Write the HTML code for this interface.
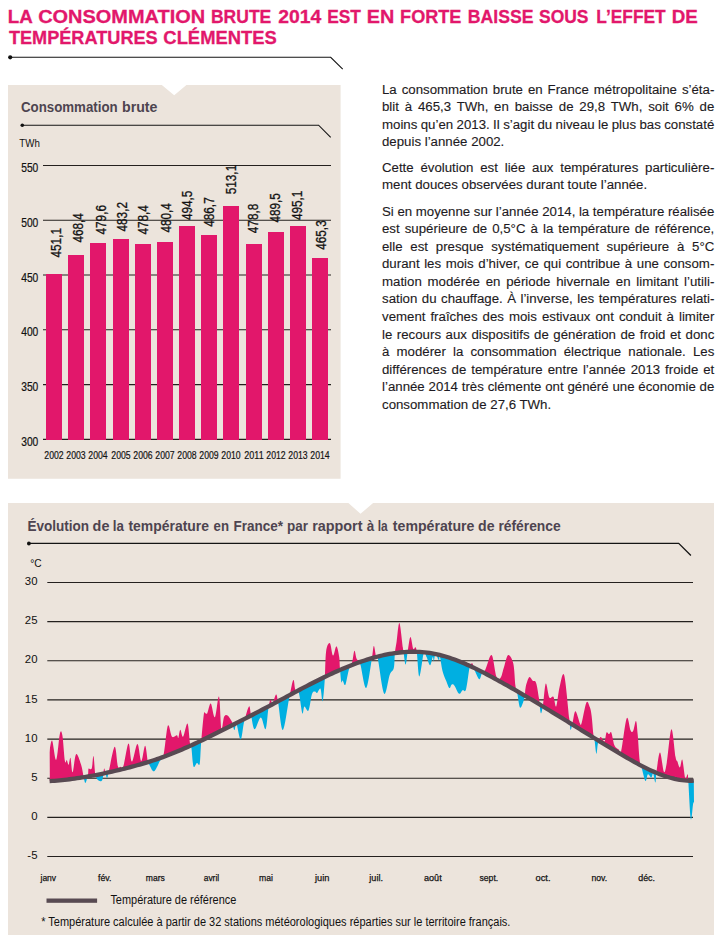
<!DOCTYPE html><html><head><meta charset="utf-8"><style>html,body{margin:0;padding:0;background:#fff;width:723px;height:935px;overflow:hidden}svg{display:block}text{font-family:"Liberation Sans",sans-serif;white-space:pre}</style></head><body>
<svg width="723" height="935" viewBox="0 0 723 935">
<text x="7.84" y="22.8" font-size="18.7" font-weight="bold" fill="#e2176b" textLength="25.05" lengthAdjust="spacingAndGlyphs" stroke="#e2176b" stroke-width="0.3">LA</text>
<text x="38.18" y="22.8" font-size="18.7" font-weight="bold" fill="#e2176b" textLength="166.97" lengthAdjust="spacingAndGlyphs" stroke="#e2176b" stroke-width="0.3">CONSOMMATION</text>
<text x="210.93" y="22.8" font-size="18.7" font-weight="bold" fill="#e2176b" textLength="60.36" lengthAdjust="spacingAndGlyphs" stroke="#e2176b" stroke-width="0.3">BRUTE</text>
<text x="278.22" y="22.8" font-size="18.7" font-weight="bold" fill="#e2176b" textLength="43.09" lengthAdjust="spacingAndGlyphs" stroke="#e2176b" stroke-width="0.3">2014</text>
<text x="327.14" y="22.8" font-size="18.7" font-weight="bold" fill="#e2176b" textLength="33.75" lengthAdjust="spacingAndGlyphs" stroke="#e2176b" stroke-width="0.3">EST</text>
<text x="366.77" y="22.8" font-size="18.7" font-weight="bold" fill="#e2176b" textLength="27.56" lengthAdjust="spacingAndGlyphs" stroke="#e2176b" stroke-width="0.3">EN</text>
<text x="400.09" y="22.8" font-size="18.7" font-weight="bold" fill="#e2176b" textLength="61.31" lengthAdjust="spacingAndGlyphs" stroke="#e2176b" stroke-width="0.3">FORTE</text>
<text x="467.82" y="22.8" font-size="18.7" font-weight="bold" fill="#e2176b" textLength="65.78" lengthAdjust="spacingAndGlyphs" stroke="#e2176b" stroke-width="0.3">BAISSE</text>
<text x="538.99" y="22.8" font-size="18.7" font-weight="bold" fill="#e2176b" textLength="49.49" lengthAdjust="spacingAndGlyphs" stroke="#e2176b" stroke-width="0.3">SOUS</text>
<text x="596.34" y="22.8" font-size="18.7" font-weight="bold" fill="#e2176b" textLength="69.35" lengthAdjust="spacingAndGlyphs" stroke="#e2176b" stroke-width="0.3">L’EFFET</text>
<text x="671.74" y="22.8" font-size="18.7" font-weight="bold" fill="#e2176b" textLength="26.09" lengthAdjust="spacingAndGlyphs" stroke="#e2176b" stroke-width="0.3">DE</text>
<text x="8.90" y="43.5" font-size="18.7" font-weight="bold" fill="#e2176b" textLength="148.81" lengthAdjust="spacingAndGlyphs" stroke="#e2176b" stroke-width="0.3">TEMPÉRATURES</text>
<text x="163.35" y="43.5" font-size="18.7" font-weight="bold" fill="#e2176b" textLength="113.47" lengthAdjust="spacingAndGlyphs" stroke="#e2176b" stroke-width="0.3">CLÉMENTES</text>
<path d="M10 57.3H330.7L342.7 69.2" fill="none" stroke="#141414" stroke-width="1.1"/><circle cx="10.2" cy="57.3" r="2.1" fill="#111"/>
<text x="382.0" y="93.8" font-size="13.25" fill="#1d1a22" stroke="#1d1a22" stroke-width="0.12" word-spacing="1.251">La consommation brute en France métropolitaine s’éta-</text>
<text x="382.0" y="111.3" font-size="13.25" fill="#1d1a22" stroke="#1d1a22" stroke-width="0.12" word-spacing="2.131">blit à 465,3 TWh, en baisse de 29,8 TWh, soit 6% de</text>
<text x="382.0" y="128.8" font-size="13.25" fill="#1d1a22" stroke="#1d1a22" stroke-width="0.12" word-spacing="-0.286">moins qu’en 2013. Il s’agit du niveau le plus bas constaté</text>
<text x="382.0" y="146.3" font-size="13.25" fill="#1d1a22" stroke="#1d1a22" stroke-width="0.12">depuis l’année 2002.</text>
<text x="382.0" y="171.8" font-size="13.25" fill="#1d1a22" stroke="#1d1a22" stroke-width="0.12" word-spacing="3.092">Cette évolution est liée aux températures particulière-</text>
<text x="382.0" y="189.4" font-size="13.25" fill="#1d1a22" stroke="#1d1a22" stroke-width="0.12">ment douces observées durant toute l’année.</text>
<text x="382.0" y="215.5" font-size="13.25" fill="#1d1a22" stroke="#1d1a22" stroke-width="0.12" word-spacing="-0.080">Si en moyenne sur l’année 2014, la température réalisée</text>
<text x="382.0" y="233.1" font-size="13.25" fill="#1d1a22" stroke="#1d1a22" stroke-width="0.12" word-spacing="1.377">est supérieure de 0,5°C à la température de référence,</text>
<text x="382.0" y="250.7" font-size="13.25" fill="#1d1a22" stroke="#1d1a22" stroke-width="0.12" word-spacing="4.047">elle est presque systématiquement supérieure à 5°C</text>
<text x="382.0" y="268.3" font-size="13.25" fill="#1d1a22" stroke="#1d1a22" stroke-width="0.12" word-spacing="0.915">durant les mois d’hiver, ce qui contribue à une consom-</text>
<text x="382.0" y="285.9" font-size="13.25" fill="#1d1a22" stroke="#1d1a22" stroke-width="0.12" word-spacing="2.123">mation modérée en période hivernale en limitant l’utili-</text>
<text x="382.0" y="303.4" font-size="13.25" fill="#1d1a22" stroke="#1d1a22" stroke-width="0.12" word-spacing="0.791">sation du chauffage. À l’inverse, les températures relati-</text>
<text x="382.0" y="321.0" font-size="13.25" fill="#1d1a22" stroke="#1d1a22" stroke-width="0.12" word-spacing="1.309">vement fraîches des mois estivaux ont conduit à limiter</text>
<text x="382.0" y="338.6" font-size="13.25" fill="#1d1a22" stroke="#1d1a22" stroke-width="0.12" word-spacing="0.830">le recours aux dispositifs de génération de froid et donc</text>
<text x="382.0" y="356.2" font-size="13.25" fill="#1d1a22" stroke="#1d1a22" stroke-width="0.12" word-spacing="3.456">à modérer la consommation électrique nationale. Les</text>
<text x="382.0" y="373.8" font-size="13.25" fill="#1d1a22" stroke="#1d1a22" stroke-width="0.12" word-spacing="1.311">différences de température entre l’année 2013 froide et</text>
<text x="382.0" y="391.4" font-size="13.25" fill="#1d1a22" stroke="#1d1a22" stroke-width="0.12" word-spacing="0.102">l’année 2014 très clémente ont généré une économie de</text>
<text x="382.0" y="409.0" font-size="13.25" fill="#1d1a22" stroke="#1d1a22" stroke-width="0.12">consommation de 27,6 TWh.</text>
<path d="M8 85H161.8L174.2 95.2L186.4 85H340.6V478.7H8Z" fill="#ece4dc"/>
<text x="20.96" y="111.9" font-size="14" font-weight="bold" fill="#4e4450" textLength="96.67" lengthAdjust="spacingAndGlyphs" >Consommation</text>
<text x="122.06" y="111.9" font-size="14" font-weight="bold" fill="#4e4450" textLength="35.42" lengthAdjust="spacingAndGlyphs" >brute</text>
<path d="M22.2 125.2H318.6L330.7 137.4" fill="none" stroke="#141414" stroke-width="1.1"/><circle cx="22.3" cy="125.2" r="1.8" fill="#111"/>
<text x="19.3" y="146.9" font-size="11.4" fill="#111" textLength="20.5" lengthAdjust="spacingAndGlyphs">TWh</text>
<line x1="43" y1="165.5" x2="331" y2="165.5" stroke="#24201e" stroke-width="1.1"/>
<text x="38.3" y="172.1" font-size="12.2" fill="#111" stroke="#111" stroke-width="0.2" text-anchor="end" textLength="17.1" lengthAdjust="spacingAndGlyphs">550</text>
<line x1="43" y1="220.3" x2="331" y2="220.3" stroke="#24201e" stroke-width="1.1"/>
<text x="38.3" y="226.9" font-size="12.2" fill="#111" stroke="#111" stroke-width="0.2" text-anchor="end" textLength="17.1" lengthAdjust="spacingAndGlyphs">500</text>
<line x1="43" y1="275.05" x2="331" y2="275.05" stroke="#24201e" stroke-width="1.1"/>
<text x="38.3" y="281.7" font-size="12.2" fill="#111" stroke="#111" stroke-width="0.2" text-anchor="end" textLength="17.1" lengthAdjust="spacingAndGlyphs">450</text>
<line x1="43" y1="329.8" x2="331" y2="329.8" stroke="#24201e" stroke-width="1.1"/>
<text x="38.3" y="336.4" font-size="12.2" fill="#111" stroke="#111" stroke-width="0.2" text-anchor="end" textLength="17.1" lengthAdjust="spacingAndGlyphs">400</text>
<line x1="43" y1="384.6" x2="331" y2="384.6" stroke="#24201e" stroke-width="1.1"/>
<text x="38.3" y="391.2" font-size="12.2" fill="#111" stroke="#111" stroke-width="0.2" text-anchor="end" textLength="17.1" lengthAdjust="spacingAndGlyphs">350</text>
<line x1="43" y1="439.4" x2="331" y2="439.4" stroke="#24201e" stroke-width="1.1"/>
<text x="38.3" y="446.0" font-size="12.2" fill="#111" stroke="#111" stroke-width="0.2" text-anchor="end" textLength="17.1" lengthAdjust="spacingAndGlyphs">300</text>
<rect x="46" y="274" width="16" height="166" fill="#e2176b"/>
<text x="54.00" y="458.8" font-size="11.6" fill="#111" stroke="#111" stroke-width="0.2" text-anchor="middle" textLength="19.3" lengthAdjust="spacingAndGlyphs">2002</text>
<text transform="translate(61.20,257.50) rotate(-90)" x="0" y="0" font-size="14" fill="#111" stroke="#111" stroke-width="0.3" textLength="29.5" lengthAdjust="spacingAndGlyphs">451,1</text>
<rect x="68" y="255" width="16" height="185" fill="#e2176b"/>
<text x="76.00" y="458.8" font-size="11.6" fill="#111" stroke="#111" stroke-width="0.2" text-anchor="middle" textLength="19.3" lengthAdjust="spacingAndGlyphs">2003</text>
<text transform="translate(83.10,242.60) rotate(-90)" x="0" y="0" font-size="14" fill="#111" stroke="#111" stroke-width="0.3" textLength="29.5" lengthAdjust="spacingAndGlyphs">468,4</text>
<rect x="90" y="243" width="16" height="197" fill="#e2176b"/>
<text x="98.00" y="458.8" font-size="11.6" fill="#111" stroke="#111" stroke-width="0.2" text-anchor="middle" textLength="19.3" lengthAdjust="spacingAndGlyphs">2004</text>
<text transform="translate(106.00,234.50) rotate(-90)" x="0" y="0" font-size="14" fill="#111" stroke="#111" stroke-width="0.3" textLength="29.5" lengthAdjust="spacingAndGlyphs">479,6</text>
<rect x="113" y="239" width="16" height="201" fill="#e2176b"/>
<text x="121.00" y="458.8" font-size="11.6" fill="#111" stroke="#111" stroke-width="0.2" text-anchor="middle" textLength="19.3" lengthAdjust="spacingAndGlyphs">2005</text>
<text transform="translate(127.00,231.50) rotate(-90)" x="0" y="0" font-size="14" fill="#111" stroke="#111" stroke-width="0.3" textLength="29.5" lengthAdjust="spacingAndGlyphs">483,2</text>
<rect x="135" y="244" width="16" height="196" fill="#e2176b"/>
<text x="143.00" y="458.8" font-size="11.6" fill="#111" stroke="#111" stroke-width="0.2" text-anchor="middle" textLength="19.3" lengthAdjust="spacingAndGlyphs">2006</text>
<text transform="translate(148.40,234.60) rotate(-90)" x="0" y="0" font-size="14" fill="#111" stroke="#111" stroke-width="0.3" textLength="29.5" lengthAdjust="spacingAndGlyphs">478,4</text>
<rect x="157" y="242" width="16" height="198" fill="#e2176b"/>
<text x="165.00" y="458.8" font-size="11.6" fill="#111" stroke="#111" stroke-width="0.2" text-anchor="middle" textLength="19.3" lengthAdjust="spacingAndGlyphs">2007</text>
<text transform="translate(170.50,232.60) rotate(-90)" x="0" y="0" font-size="14" fill="#111" stroke="#111" stroke-width="0.3" textLength="29.5" lengthAdjust="spacingAndGlyphs">480,4</text>
<rect x="179" y="226" width="16" height="214" fill="#e2176b"/>
<text x="187.00" y="458.8" font-size="11.6" fill="#111" stroke="#111" stroke-width="0.2" text-anchor="middle" textLength="19.3" lengthAdjust="spacingAndGlyphs">2008</text>
<text transform="translate(192.00,220.10) rotate(-90)" x="0" y="0" font-size="14" fill="#111" stroke="#111" stroke-width="0.3" textLength="29.5" lengthAdjust="spacingAndGlyphs">494,5</text>
<rect x="201" y="235" width="16" height="205" fill="#e2176b"/>
<text x="209.00" y="458.8" font-size="11.6" fill="#111" stroke="#111" stroke-width="0.2" text-anchor="middle" textLength="19.3" lengthAdjust="spacingAndGlyphs">2009</text>
<text transform="translate(214.20,226.80) rotate(-90)" x="0" y="0" font-size="14" fill="#111" stroke="#111" stroke-width="0.3" textLength="29.5" lengthAdjust="spacingAndGlyphs">486,7</text>
<rect x="223" y="206" width="16" height="234" fill="#e2176b"/>
<text x="231.00" y="458.8" font-size="11.6" fill="#111" stroke="#111" stroke-width="0.2" text-anchor="middle" textLength="19.3" lengthAdjust="spacingAndGlyphs">2010</text>
<text transform="translate(236.30,194.30) rotate(-90)" x="0" y="0" font-size="14" fill="#111" stroke="#111" stroke-width="0.3" textLength="29.5" lengthAdjust="spacingAndGlyphs">513,1</text>
<rect x="246" y="244" width="16" height="196" fill="#e2176b"/>
<text x="254.00" y="458.8" font-size="11.6" fill="#111" stroke="#111" stroke-width="0.2" text-anchor="middle" textLength="19.3" lengthAdjust="spacingAndGlyphs">2011</text>
<text transform="translate(258.00,233.20) rotate(-90)" x="0" y="0" font-size="14" fill="#111" stroke="#111" stroke-width="0.3" textLength="29.5" lengthAdjust="spacingAndGlyphs">478,8</text>
<rect x="268" y="232" width="16" height="208" fill="#e2176b"/>
<text x="276.00" y="458.8" font-size="11.6" fill="#111" stroke="#111" stroke-width="0.2" text-anchor="middle" textLength="19.3" lengthAdjust="spacingAndGlyphs">2012</text>
<text transform="translate(280.10,222.60) rotate(-90)" x="0" y="0" font-size="14" fill="#111" stroke="#111" stroke-width="0.3" textLength="29.5" lengthAdjust="spacingAndGlyphs">489,5</text>
<rect x="290" y="226" width="16" height="214" fill="#e2176b"/>
<text x="298.00" y="458.8" font-size="11.6" fill="#111" stroke="#111" stroke-width="0.2" text-anchor="middle" textLength="19.3" lengthAdjust="spacingAndGlyphs">2013</text>
<text transform="translate(302.00,220.10) rotate(-90)" x="0" y="0" font-size="14" fill="#111" stroke="#111" stroke-width="0.3" textLength="29.5" lengthAdjust="spacingAndGlyphs">495,1</text>
<rect x="312" y="258" width="16" height="182" fill="#e2176b"/>
<text x="320.00" y="458.8" font-size="11.6" fill="#111" stroke="#111" stroke-width="0.2" text-anchor="middle" textLength="19.3" lengthAdjust="spacingAndGlyphs">2014</text>
<text transform="translate(326.40,249.80) rotate(-90)" x="0" y="0" font-size="14" fill="#111" stroke="#111" stroke-width="0.3" textLength="29.5" lengthAdjust="spacingAndGlyphs">465,3</text>
<path d="M8 503H348.4L360.5 513.8L373.1 503H714V935H8Z" fill="#ece4dc"/>
<text x="27.39" y="530.7" font-size="14" font-weight="bold" fill="#4e4450" textLength="61.65" lengthAdjust="spacingAndGlyphs" >Évolution</text>
<text x="92.61" y="530.7" font-size="14" font-weight="bold" fill="#4e4450" textLength="16.78" lengthAdjust="spacingAndGlyphs" >de</text>
<text x="112.76" y="530.7" font-size="14" font-weight="bold" fill="#4e4450" textLength="11.14" lengthAdjust="spacingAndGlyphs" >la</text>
<text x="128.43" y="530.7" font-size="14" font-weight="bold" fill="#4e4450" textLength="80.54" lengthAdjust="spacingAndGlyphs" >température</text>
<text x="213.58" y="530.7" font-size="14" font-weight="bold" fill="#4e4450" textLength="15.44" lengthAdjust="spacingAndGlyphs" >en</text>
<text x="233.40" y="530.7" font-size="14" font-weight="bold" fill="#4e4450" textLength="49.52" lengthAdjust="spacingAndGlyphs" >France*</text>
<text x="287.01" y="530.7" font-size="14" font-weight="bold" fill="#4e4450" textLength="20.99" lengthAdjust="spacingAndGlyphs" >par</text>
<text x="312.15" y="530.7" font-size="14" font-weight="bold" fill="#4e4450" textLength="50.32" lengthAdjust="spacingAndGlyphs" >rapport</text>
<text x="366.86" y="530.7" font-size="14" font-weight="bold" fill="#4e4450" textLength="7.50" lengthAdjust="spacingAndGlyphs" >à</text>
<text x="377.76" y="530.7" font-size="14" font-weight="bold" fill="#4e4450" textLength="9.95" lengthAdjust="spacingAndGlyphs" >la</text>
<text x="392.83" y="530.7" font-size="14" font-weight="bold" fill="#4e4450" textLength="81.65" lengthAdjust="spacingAndGlyphs" >température</text>
<text x="478.02" y="530.7" font-size="14" font-weight="bold" fill="#4e4450" textLength="16.46" lengthAdjust="spacingAndGlyphs" >de</text>
<text x="498.39" y="530.7" font-size="14" font-weight="bold" fill="#4e4450" textLength="62.28" lengthAdjust="spacingAndGlyphs" >référence</text>
<path d="M28.8 543.3H678.7L690.9 555.5" fill="none" stroke="#141414" stroke-width="1.3"/><circle cx="28.9" cy="543.5" r="1.9" fill="#111"/>
<text x="30.3" y="567.1" font-size="11.4" fill="#111" textLength="11.4" lengthAdjust="spacingAndGlyphs">°C</text>
<line x1="47.3" y1="582.44" x2="693" y2="582.44" stroke="#24201e" stroke-width="1.1"/>
<text x="37.5" y="585.14" font-size="11.4" fill="#111" text-anchor="end">30</text>
<line x1="47.3" y1="621.60" x2="693" y2="621.60" stroke="#24201e" stroke-width="1.1"/>
<text x="37.5" y="624.30" font-size="11.4" fill="#111" text-anchor="end">25</text>
<line x1="47.3" y1="660.76" x2="693" y2="660.76" stroke="#24201e" stroke-width="1.1"/>
<text x="37.5" y="663.46" font-size="11.4" fill="#111" text-anchor="end">20</text>
<line x1="47.3" y1="699.92" x2="693" y2="699.92" stroke="#24201e" stroke-width="1.1"/>
<text x="37.5" y="702.62" font-size="11.4" fill="#111" text-anchor="end">15</text>
<line x1="47.3" y1="739.08" x2="693" y2="739.08" stroke="#24201e" stroke-width="1.1"/>
<text x="37.5" y="741.78" font-size="11.4" fill="#111" text-anchor="end">10</text>
<line x1="47.3" y1="778.24" x2="693" y2="778.24" stroke="#24201e" stroke-width="1.1"/>
<text x="37.5" y="780.94" font-size="11.4" fill="#111" text-anchor="end">5</text>
<line x1="47.3" y1="817.40" x2="693" y2="817.40" stroke="#24201e" stroke-width="1.1"/>
<text x="37.5" y="820.10" font-size="11.4" fill="#111" text-anchor="end">0</text>
<line x1="47.3" y1="856.56" x2="693" y2="856.56" stroke="#24201e" stroke-width="1.1"/>
<text x="37.5" y="859.26" font-size="11.4" fill="#111" text-anchor="end">-5</text>
<text x="40.5" y="880.5" font-size="9.8" fill="#111" stroke="#111" stroke-width="0.25" textLength="15.6" lengthAdjust="spacingAndGlyphs">janv</text>
<text x="98.0" y="880.5" font-size="9.8" fill="#111" stroke="#111" stroke-width="0.25" textLength="13.4" lengthAdjust="spacingAndGlyphs">fév.</text>
<text x="145.8" y="880.5" font-size="9.8" fill="#111" stroke="#111" stroke-width="0.25" textLength="19.1" lengthAdjust="spacingAndGlyphs">mars</text>
<text x="203.7" y="880.5" font-size="9.8" fill="#111" stroke="#111" stroke-width="0.25" textLength="15.5" lengthAdjust="spacingAndGlyphs">avril</text>
<text x="259.0" y="880.5" font-size="9.8" fill="#111" stroke="#111" stroke-width="0.25" textLength="13.9" lengthAdjust="spacingAndGlyphs">mai</text>
<text x="315.0" y="880.5" font-size="9.8" fill="#111" stroke="#111" stroke-width="0.25" textLength="14.4" lengthAdjust="spacingAndGlyphs">juin</text>
<text x="369.3" y="880.5" font-size="9.8" fill="#111" stroke="#111" stroke-width="0.25" textLength="13.7" lengthAdjust="spacingAndGlyphs">juil.</text>
<text x="424.0" y="880.5" font-size="9.8" fill="#111" stroke="#111" stroke-width="0.25" textLength="17.7" lengthAdjust="spacingAndGlyphs">août</text>
<text x="479.5" y="880.5" font-size="9.8" fill="#111" stroke="#111" stroke-width="0.25" textLength="18.7" lengthAdjust="spacingAndGlyphs">sept.</text>
<text x="535.5" y="880.5" font-size="9.8" fill="#111" stroke="#111" stroke-width="0.25" textLength="15.0" lengthAdjust="spacingAndGlyphs">oct.</text>
<text x="591.5" y="880.5" font-size="9.8" fill="#111" stroke="#111" stroke-width="0.25" textLength="15.7" lengthAdjust="spacingAndGlyphs">nov.</text>
<text x="638.3" y="880.5" font-size="9.8" fill="#111" stroke="#111" stroke-width="0.25" textLength="16.7" lengthAdjust="spacingAndGlyphs">déc.</text>
<defs>
<clipPath id="ab"><path d="M49.60 781.11 L52.10 780.95 L54.60 780.77 L57.10 780.57 L59.60 780.34 L62.10 780.10 L64.60 779.83 L67.10 779.55 L69.60 779.25 L72.10 778.93 L74.60 778.59 L77.10 778.24 L79.60 777.86 L82.10 777.47 L84.60 777.06 L87.10 776.64 L89.60 776.20 L92.10 775.75 L94.60 775.28 L97.10 774.79 L99.60 774.29 L102.10 773.78 L104.60 773.25 L107.10 772.71 L109.60 772.16 L112.10 771.60 L114.60 771.02 L117.10 770.43 L119.60 769.83 L122.10 769.22 L124.60 768.60 L127.10 767.97 L129.60 767.32 L132.10 766.66 L134.60 765.98 L137.10 765.29 L139.60 764.59 L142.10 763.86 L144.60 763.12 L147.10 762.36 L149.60 761.58 L152.10 760.79 L154.60 759.97 L157.10 759.13 L159.60 758.27 L162.10 757.38 L164.60 756.47 L167.10 755.54 L169.60 754.58 L172.10 753.60 L174.60 752.59 L177.10 751.56 L179.60 750.51 L182.10 749.43 L184.60 748.33 L187.10 747.22 L189.60 746.09 L192.10 744.94 L194.60 743.77 L197.10 742.59 L199.60 741.40 L202.10 740.20 L204.60 738.98 L207.10 737.76 L209.60 736.52 L212.10 735.29 L214.60 734.04 L217.10 732.79 L219.60 731.54 L222.10 730.28 L224.60 729.02 L227.10 727.76 L229.60 726.50 L232.10 725.23 L234.60 723.96 L237.10 722.69 L239.60 721.42 L242.10 720.14 L244.60 718.85 L247.10 717.57 L249.60 716.28 L252.10 714.99 L254.60 713.69 L257.10 712.39 L259.60 711.08 L262.10 709.77 L264.60 708.45 L267.10 707.13 L269.60 705.81 L272.10 704.48 L274.60 703.14 L277.10 701.80 L279.60 700.46 L282.10 699.12 L284.60 697.78 L287.10 696.43 L289.60 695.09 L292.10 693.75 L294.60 692.42 L297.10 691.09 L299.60 689.76 L302.10 688.44 L304.60 687.13 L307.10 685.83 L309.60 684.53 L312.10 683.25 L314.60 681.98 L317.10 680.72 L319.60 679.47 L322.10 678.24 L324.60 677.02 L327.10 675.82 L329.60 674.64 L332.10 673.47 L334.60 672.32 L337.10 671.20 L339.60 670.09 L342.10 669.01 L344.60 667.95 L347.10 666.91 L349.60 665.90 L352.10 664.92 L354.60 663.96 L357.10 663.03 L359.60 662.13 L362.10 661.26 L364.60 660.42 L367.10 659.61 L369.60 658.83 L372.10 658.09 L374.60 657.38 L377.10 656.71 L379.60 656.08 L382.10 655.48 L384.60 654.93 L387.10 654.41 L389.60 653.94 L392.10 653.51 L394.60 653.12 L397.10 652.78 L399.60 652.49 L402.10 652.24 L404.60 652.04 L407.10 651.89 L409.60 651.79 L412.10 651.74 L414.60 651.74 L417.10 651.80 L419.60 651.91 L422.10 652.08 L424.60 652.31 L427.10 652.59 L429.60 652.94 L432.10 653.34 L434.60 653.81 L437.10 654.33 L439.60 654.92 L442.10 655.56 L444.60 656.26 L447.10 657.01 L449.60 657.81 L452.10 658.67 L454.60 659.56 L457.10 660.50 L459.60 661.49 L462.10 662.51 L464.60 663.58 L467.10 664.67 L469.60 665.81 L472.10 666.97 L474.60 668.16 L477.10 669.38 L479.60 670.63 L482.10 671.90 L484.60 673.19 L487.10 674.50 L489.60 675.83 L492.10 677.17 L494.60 678.52 L497.10 679.89 L499.60 681.27 L502.10 682.65 L504.60 684.05 L507.10 685.45 L509.60 686.86 L512.10 688.29 L514.60 689.72 L517.10 691.16 L519.60 692.61 L522.10 694.06 L524.60 695.53 L527.10 697.00 L529.60 698.48 L532.10 699.96 L534.60 701.46 L537.10 702.96 L539.60 704.46 L542.10 705.97 L544.60 707.49 L547.10 709.01 L549.60 710.53 L552.10 712.06 L554.60 713.59 L557.10 715.13 L559.60 716.66 L562.10 718.20 L564.60 719.75 L567.10 721.29 L569.60 722.83 L572.10 724.38 L574.60 725.92 L577.10 727.47 L579.60 729.02 L582.10 730.56 L584.60 732.10 L587.10 733.65 L589.60 735.19 L592.10 736.73 L594.60 738.26 L597.10 739.79 L599.60 741.32 L602.10 742.85 L604.60 744.37 L607.10 745.89 L609.60 747.40 L612.10 748.90 L614.60 750.40 L617.10 751.90 L619.60 753.39 L622.10 754.87 L624.60 756.34 L627.10 757.80 L629.60 759.24 L632.10 760.66 L634.60 762.06 L637.10 763.44 L639.60 764.78 L642.10 766.10 L644.60 767.38 L647.10 768.62 L649.60 769.82 L652.10 770.97 L654.60 772.08 L657.10 773.13 L659.60 774.13 L662.10 775.08 L664.60 775.96 L667.10 776.78 L669.60 777.53 L672.10 778.21 L674.60 778.82 L677.10 779.35 L679.60 779.80 L682.10 780.17 L684.60 780.45 L687.10 780.64 L689.60 780.74 L692.10 780.74 L693.80 780.69 L694.7 560 L49.3 560Z"/></clipPath>
<clipPath id="be"><path d="M49.60 781.11 L52.10 780.95 L54.60 780.77 L57.10 780.57 L59.60 780.34 L62.10 780.10 L64.60 779.83 L67.10 779.55 L69.60 779.25 L72.10 778.93 L74.60 778.59 L77.10 778.24 L79.60 777.86 L82.10 777.47 L84.60 777.06 L87.10 776.64 L89.60 776.20 L92.10 775.75 L94.60 775.28 L97.10 774.79 L99.60 774.29 L102.10 773.78 L104.60 773.25 L107.10 772.71 L109.60 772.16 L112.10 771.60 L114.60 771.02 L117.10 770.43 L119.60 769.83 L122.10 769.22 L124.60 768.60 L127.10 767.97 L129.60 767.32 L132.10 766.66 L134.60 765.98 L137.10 765.29 L139.60 764.59 L142.10 763.86 L144.60 763.12 L147.10 762.36 L149.60 761.58 L152.10 760.79 L154.60 759.97 L157.10 759.13 L159.60 758.27 L162.10 757.38 L164.60 756.47 L167.10 755.54 L169.60 754.58 L172.10 753.60 L174.60 752.59 L177.10 751.56 L179.60 750.51 L182.10 749.43 L184.60 748.33 L187.10 747.22 L189.60 746.09 L192.10 744.94 L194.60 743.77 L197.10 742.59 L199.60 741.40 L202.10 740.20 L204.60 738.98 L207.10 737.76 L209.60 736.52 L212.10 735.29 L214.60 734.04 L217.10 732.79 L219.60 731.54 L222.10 730.28 L224.60 729.02 L227.10 727.76 L229.60 726.50 L232.10 725.23 L234.60 723.96 L237.10 722.69 L239.60 721.42 L242.10 720.14 L244.60 718.85 L247.10 717.57 L249.60 716.28 L252.10 714.99 L254.60 713.69 L257.10 712.39 L259.60 711.08 L262.10 709.77 L264.60 708.45 L267.10 707.13 L269.60 705.81 L272.10 704.48 L274.60 703.14 L277.10 701.80 L279.60 700.46 L282.10 699.12 L284.60 697.78 L287.10 696.43 L289.60 695.09 L292.10 693.75 L294.60 692.42 L297.10 691.09 L299.60 689.76 L302.10 688.44 L304.60 687.13 L307.10 685.83 L309.60 684.53 L312.10 683.25 L314.60 681.98 L317.10 680.72 L319.60 679.47 L322.10 678.24 L324.60 677.02 L327.10 675.82 L329.60 674.64 L332.10 673.47 L334.60 672.32 L337.10 671.20 L339.60 670.09 L342.10 669.01 L344.60 667.95 L347.10 666.91 L349.60 665.90 L352.10 664.92 L354.60 663.96 L357.10 663.03 L359.60 662.13 L362.10 661.26 L364.60 660.42 L367.10 659.61 L369.60 658.83 L372.10 658.09 L374.60 657.38 L377.10 656.71 L379.60 656.08 L382.10 655.48 L384.60 654.93 L387.10 654.41 L389.60 653.94 L392.10 653.51 L394.60 653.12 L397.10 652.78 L399.60 652.49 L402.10 652.24 L404.60 652.04 L407.10 651.89 L409.60 651.79 L412.10 651.74 L414.60 651.74 L417.10 651.80 L419.60 651.91 L422.10 652.08 L424.60 652.31 L427.10 652.59 L429.60 652.94 L432.10 653.34 L434.60 653.81 L437.10 654.33 L439.60 654.92 L442.10 655.56 L444.60 656.26 L447.10 657.01 L449.60 657.81 L452.10 658.67 L454.60 659.56 L457.10 660.50 L459.60 661.49 L462.10 662.51 L464.60 663.58 L467.10 664.67 L469.60 665.81 L472.10 666.97 L474.60 668.16 L477.10 669.38 L479.60 670.63 L482.10 671.90 L484.60 673.19 L487.10 674.50 L489.60 675.83 L492.10 677.17 L494.60 678.52 L497.10 679.89 L499.60 681.27 L502.10 682.65 L504.60 684.05 L507.10 685.45 L509.60 686.86 L512.10 688.29 L514.60 689.72 L517.10 691.16 L519.60 692.61 L522.10 694.06 L524.60 695.53 L527.10 697.00 L529.60 698.48 L532.10 699.96 L534.60 701.46 L537.10 702.96 L539.60 704.46 L542.10 705.97 L544.60 707.49 L547.10 709.01 L549.60 710.53 L552.10 712.06 L554.60 713.59 L557.10 715.13 L559.60 716.66 L562.10 718.20 L564.60 719.75 L567.10 721.29 L569.60 722.83 L572.10 724.38 L574.60 725.92 L577.10 727.47 L579.60 729.02 L582.10 730.56 L584.60 732.10 L587.10 733.65 L589.60 735.19 L592.10 736.73 L594.60 738.26 L597.10 739.79 L599.60 741.32 L602.10 742.85 L604.60 744.37 L607.10 745.89 L609.60 747.40 L612.10 748.90 L614.60 750.40 L617.10 751.90 L619.60 753.39 L622.10 754.87 L624.60 756.34 L627.10 757.80 L629.60 759.24 L632.10 760.66 L634.60 762.06 L637.10 763.44 L639.60 764.78 L642.10 766.10 L644.60 767.38 L647.10 768.62 L649.60 769.82 L652.10 770.97 L654.60 772.08 L657.10 773.13 L659.60 774.13 L662.10 775.08 L664.60 775.96 L667.10 776.78 L669.60 777.53 L672.10 778.21 L674.60 778.82 L677.10 779.35 L679.60 779.80 L682.10 780.17 L684.60 780.45 L687.10 780.64 L689.60 780.74 L692.10 780.74 L693.80 780.69 L694.7 880 L49.3 880Z"/></clipPath>
</defs>
<path d="M49.60 781.11 L49.30 752.40 C49.77 750.42 50.95 739.27 52.10 740.50 C53.25 741.73 54.90 760.93 56.20 759.80 C57.50 758.67 58.87 737.73 59.90 733.70 C60.93 729.67 61.57 731.03 62.40 735.60 C63.23 740.17 64.17 757.03 64.90 761.10 C65.63 765.17 66.18 759.38 66.80 760.00 C67.42 760.62 67.98 765.13 68.60 764.80 C69.22 764.47 69.83 756.75 70.50 758.00 C71.17 759.25 71.67 772.93 72.60 772.30 C73.53 771.67 74.68 755.45 76.10 754.20 C77.52 752.95 79.85 761.05 81.10 764.80 C82.35 768.55 82.87 773.68 83.60 776.70 C84.33 779.72 84.77 783.22 85.50 782.90 C86.23 782.58 87.48 777.18 88.00 774.80 C88.52 772.42 88.00 769.63 88.60 768.60 C89.22 767.57 90.88 770.68 91.70 768.60 C92.52 766.52 92.88 755.07 93.50 756.10 C94.12 757.13 94.57 770.75 95.40 774.80 C96.23 778.85 97.35 779.53 98.50 780.40 C99.65 781.27 101.37 781.97 102.30 780.00 C103.23 778.03 103.58 769.77 104.10 768.60 C104.62 767.43 104.88 771.45 105.40 773.00 C105.92 774.55 106.58 778.43 107.20 777.90 C107.82 777.37 107.85 774.98 109.10 769.80 C110.35 764.62 113.25 747.42 114.70 746.80 C116.15 746.18 116.87 762.78 117.80 766.10 C118.73 769.42 119.37 766.72 120.30 766.70 C121.23 766.68 122.03 769.85 123.40 766.00 C124.77 762.15 127.08 744.33 128.50 743.60 C129.92 742.87 130.42 761.55 131.90 761.60 C133.38 761.65 135.83 744.02 137.40 743.90 C138.97 743.78 140.02 760.60 141.30 760.90 C142.58 761.20 144.02 745.58 145.10 745.70 C146.18 745.82 147.12 758.48 147.80 761.60 C148.48 764.72 148.17 762.78 149.20 764.40 C150.23 766.02 152.27 771.77 154.00 771.30 C155.73 770.83 157.98 764.48 159.60 761.60 C161.22 758.72 162.32 760.00 163.70 754.00 C165.08 748.00 166.52 728.48 167.90 725.60 C169.28 722.72 170.50 735.08 172.00 736.70 C173.50 738.32 175.85 735.08 176.90 735.30 C177.95 735.52 177.73 738.92 178.30 738.00 C178.87 737.08 179.50 730.02 180.30 729.80 C181.10 729.58 181.90 737.73 183.10 736.70 C184.30 735.67 186.35 722.45 187.50 723.60 C188.65 724.75 189.35 739.57 190.00 743.60 C190.65 747.63 190.82 744.00 191.40 747.80 C191.98 751.60 192.58 763.87 193.50 766.40 C194.42 768.93 195.87 763.45 196.90 763.00 C197.93 762.55 199.00 766.93 199.70 763.70 C200.40 760.47 200.42 751.78 201.10 743.60 C201.78 735.42 203.12 719.67 203.80 714.60 C204.48 709.53 204.62 713.43 205.20 713.20 C205.78 712.97 206.37 714.82 207.30 713.20 C208.23 711.58 209.53 702.82 210.80 703.50 C212.07 704.18 213.53 718.45 214.90 717.30 C216.27 716.15 217.92 694.73 219.00 696.60 C220.08 698.47 220.55 725.13 221.40 728.50 C222.25 731.87 223.07 718.98 224.10 716.80 C225.13 714.62 226.32 714.60 227.60 715.40 C228.88 716.20 230.88 719.77 231.80 721.60 C232.72 723.43 232.65 725.02 233.10 726.40 C233.55 727.78 233.92 730.23 234.50 729.90 C235.08 729.57 235.57 722.78 236.60 724.40 C237.63 726.02 239.43 740.07 240.70 739.60 C241.97 739.13 242.82 727.13 244.20 721.60 C245.58 716.07 247.85 707.43 249.00 706.40 C250.15 705.37 250.17 711.60 251.10 715.40 C252.03 719.20 252.98 728.85 254.60 729.20 C256.22 729.55 258.97 717.50 260.80 717.50 C262.63 717.50 264.33 730.70 265.60 729.20 C266.87 727.70 267.58 713.45 268.40 708.50 C269.22 703.55 269.80 700.32 270.50 699.50 C271.20 698.68 271.68 704.42 272.60 703.60 C273.52 702.78 275.08 694.83 276.00 694.60 C276.92 694.37 276.95 696.32 278.10 702.20 C279.25 708.08 281.05 730.58 282.90 729.90 C284.75 729.22 287.47 706.40 289.20 698.10 C290.93 689.80 292.27 681.48 293.30 680.10 C294.33 678.72 294.48 687.72 295.40 689.80 C296.32 691.88 297.65 688.68 298.80 692.60 C299.95 696.52 301.37 711.00 302.30 713.30 C303.23 715.60 303.37 706.87 304.40 706.40 C305.43 705.93 307.23 712.57 308.50 710.50 C309.77 708.43 310.92 697.15 312.00 694.00 C313.08 690.85 314.15 691.77 315.00 691.60 C315.85 691.43 316.18 693.47 317.10 693.00 C318.02 692.53 319.58 687.42 320.50 688.80 C321.42 690.18 321.90 702.68 322.60 701.30 C323.30 699.92 324.12 688.80 324.70 680.50 C325.28 672.20 325.23 657.72 326.10 651.50 C326.97 645.28 328.75 642.52 329.90 643.20 C331.05 643.88 331.92 655.10 333.00 655.60 C334.08 656.10 335.37 645.97 336.40 646.20 C337.43 646.43 338.62 653.37 339.20 657.00 C339.78 660.63 339.55 663.85 339.90 668.00 C340.25 672.15 340.83 679.82 341.30 681.90 C341.77 683.98 342.02 680.03 342.70 680.50 C343.38 680.97 344.37 686.53 345.40 684.70 C346.43 682.87 347.78 673.18 348.90 669.50 C350.02 665.82 351.18 665.72 352.10 662.60 C353.02 659.48 353.67 651.50 354.40 650.80 C355.13 650.10 355.80 656.67 356.50 658.40 C357.20 660.13 357.92 660.05 358.60 661.20 C359.28 662.35 359.33 660.82 360.60 665.30 C361.87 669.78 364.35 689.02 366.20 688.10 C368.05 687.18 370.43 666.82 371.70 659.80 C372.97 652.78 373.10 646.70 373.80 646.00 C374.50 645.30 375.22 653.42 375.90 655.60 C376.58 657.78 376.52 652.75 377.90 659.10 C379.28 665.45 382.23 691.05 384.20 693.70 C386.17 696.35 388.10 679.27 389.70 675.00 C391.30 670.73 392.93 671.78 393.80 668.10 C394.67 664.42 394.43 657.28 394.90 652.90 C395.37 648.52 395.85 646.77 396.60 641.80 C397.35 636.83 398.37 622.18 399.40 623.10 C400.43 624.02 402.12 642.57 402.80 647.30 C403.48 652.03 403.03 648.62 403.50 651.50 C403.97 654.38 404.90 664.60 405.60 664.60 C406.30 664.60 406.90 656.10 407.70 651.50 C408.50 646.90 409.48 637.47 410.40 637.00 C411.32 636.53 412.35 646.98 413.20 648.70 C414.05 650.42 414.88 646.60 415.50 647.30 C416.12 648.00 416.25 648.05 416.90 652.90 C417.55 657.75 418.25 676.40 419.40 676.40 C420.55 676.40 422.60 656.13 423.80 652.90 C425.00 649.67 425.55 654.93 426.60 657.00 C427.65 659.07 429.07 665.30 430.10 665.30 C431.13 665.30 432.18 657.68 432.80 657.00 C433.42 656.32 433.33 661.65 433.80 661.20 C434.27 660.75 434.73 654.42 435.60 654.30 C436.47 654.18 438.32 660.28 439.00 660.50 C439.68 660.72 439.12 653.87 439.70 655.60 C440.28 657.33 441.45 666.75 442.50 670.90 C443.55 675.05 444.85 677.63 446.00 680.50 C447.15 683.37 448.48 687.40 449.40 688.10 C450.32 688.80 450.68 685.15 451.50 684.70 C452.32 684.25 453.03 683.90 454.30 685.40 C455.57 686.90 457.72 692.90 459.10 693.70 C460.48 694.50 461.45 690.90 462.60 690.20 C463.75 689.50 464.85 693.18 466.00 689.50 C467.15 685.82 468.47 672.47 469.50 668.10 C470.53 663.73 471.40 663.07 472.20 663.30 C473.00 663.53 473.13 666.85 474.30 669.50 C475.47 672.15 477.93 678.52 479.20 679.20 C480.47 679.88 480.87 675.22 481.90 673.60 C482.93 671.98 483.78 672.60 485.40 669.50 C487.02 666.40 489.77 653.85 491.60 655.00 C493.43 656.15 494.90 672.60 496.40 676.40 C497.90 680.20 499.32 679.42 500.60 677.80 C501.88 676.18 502.83 670.50 504.10 666.70 C505.37 662.90 506.67 655.53 508.20 655.00 C509.73 654.47 512.10 658.40 513.30 663.50 C514.50 668.60 514.72 680.52 515.40 685.60 C516.08 690.68 516.60 690.30 517.40 694.00 C518.20 697.70 519.03 707.12 520.20 707.80 C521.37 708.48 523.48 701.57 524.40 698.10 C525.32 694.63 524.90 690.47 525.70 687.00 C526.50 683.53 528.03 678.33 529.20 677.30 C530.37 676.27 531.55 679.87 532.70 680.80 C533.85 681.73 535.07 680.02 536.10 682.90 C537.13 685.78 538.32 694.42 538.90 698.10 C539.48 701.78 539.25 702.47 539.60 705.00 C539.95 707.53 540.43 713.30 541.00 713.30 C541.57 713.30 542.20 709.95 543.00 705.00 C543.80 700.05 544.75 684.87 545.80 683.60 C546.85 682.33 548.03 695.22 549.30 697.40 C550.57 699.58 552.25 695.20 553.40 696.70 C554.55 698.20 555.17 708.02 556.20 706.40 C557.23 704.78 558.27 692.18 559.60 687.00 C560.93 681.82 562.58 670.00 564.20 675.30 C565.82 680.60 568.22 709.70 569.30 718.80 C570.38 727.90 570.12 729.43 570.70 729.90 C571.28 730.37 572.00 724.72 572.80 721.60 C573.60 718.48 574.30 710.90 575.50 711.20 C576.70 711.50 578.97 721.47 580.00 723.40 C581.03 725.33 580.63 726.30 581.70 722.80 C582.77 719.30 585.05 705.02 586.40 702.40 C587.75 699.78 588.93 704.88 589.80 707.10 C590.67 709.32 591.02 711.27 591.60 715.70 C592.18 720.13 592.80 729.57 593.30 733.70 C593.80 737.83 594.08 737.15 594.60 740.50 C595.12 743.85 595.83 753.38 596.40 753.80 C596.97 754.22 597.32 745.78 598.00 743.00 C598.68 740.22 599.72 737.65 600.50 737.10 C601.28 736.55 601.98 739.05 602.70 739.70 C603.42 740.35 604.17 742.22 604.80 741.00 C605.43 739.78 605.78 733.55 606.50 732.40 C607.22 731.25 608.30 734.10 609.10 734.10 C609.90 734.10 610.45 730.62 611.30 732.40 C612.15 734.18 613.28 742.17 614.20 744.80 C615.12 747.43 616.08 747.45 616.80 748.20 C617.52 748.95 617.78 748.73 618.50 749.30 C619.22 749.87 619.73 756.77 621.10 751.60 C622.47 746.43 625.13 721.87 626.70 718.30 C628.27 714.73 629.43 728.07 630.50 730.20 C631.57 732.33 632.18 732.63 633.10 731.10 C634.02 729.57 635.23 720.43 636.00 721.00 C636.77 721.57 637.08 727.88 637.70 734.50 C638.32 741.12 638.97 754.88 639.70 760.70 C640.43 766.52 641.13 766.02 642.10 769.40 C643.07 772.78 644.53 780.20 645.50 781.00 C646.47 781.80 646.93 774.77 647.90 774.20 C648.87 773.63 650.42 777.68 651.30 777.60 C652.18 777.52 652.52 772.90 653.20 773.70 C653.88 774.50 654.83 782.88 655.40 782.40 C655.97 781.92 655.83 775.80 656.60 770.80 C657.37 765.80 658.78 752.23 660.00 752.40 C661.22 752.57 662.77 770.10 663.90 771.80 C665.03 773.50 665.55 769.70 666.80 762.60 C668.05 755.50 669.95 730.17 671.40 729.20 C672.85 728.23 674.50 751.40 675.50 756.80 C676.50 762.20 676.67 759.83 677.40 761.60 C678.13 763.37 679.08 767.72 679.90 767.40 C680.72 767.08 681.42 757.93 682.30 759.70 C683.18 761.47 684.32 775.58 685.20 778.00 C686.08 780.42 687.08 773.70 687.60 774.20 C688.12 774.70 687.77 773.53 688.30 781.00 C688.83 788.47 690.00 815.17 690.80 819.00 C691.60 822.83 692.50 806.75 693.10 804.00 C693.70 801.25 694.18 802.75 694.40 802.50 L694.40 780.69 L693.80 780.69 L692.10 780.74 L689.60 780.74 L687.10 780.64 L684.60 780.45 L682.10 780.17 L679.60 779.80 L677.10 779.35 L674.60 778.82 L672.10 778.21 L669.60 777.53 L667.10 776.78 L664.60 775.96 L662.10 775.08 L659.60 774.13 L657.10 773.13 L654.60 772.08 L652.10 770.97 L649.60 769.82 L647.10 768.62 L644.60 767.38 L642.10 766.10 L639.60 764.78 L637.10 763.44 L634.60 762.06 L632.10 760.66 L629.60 759.24 L627.10 757.80 L624.60 756.34 L622.10 754.87 L619.60 753.39 L617.10 751.90 L614.60 750.40 L612.10 748.90 L609.60 747.40 L607.10 745.89 L604.60 744.37 L602.10 742.85 L599.60 741.32 L597.10 739.79 L594.60 738.26 L592.10 736.73 L589.60 735.19 L587.10 733.65 L584.60 732.10 L582.10 730.56 L579.60 729.02 L577.10 727.47 L574.60 725.92 L572.10 724.38 L569.60 722.83 L567.10 721.29 L564.60 719.75 L562.10 718.20 L559.60 716.66 L557.10 715.13 L554.60 713.59 L552.10 712.06 L549.60 710.53 L547.10 709.01 L544.60 707.49 L542.10 705.97 L539.60 704.46 L537.10 702.96 L534.60 701.46 L532.10 699.96 L529.60 698.48 L527.10 697.00 L524.60 695.53 L522.10 694.06 L519.60 692.61 L517.10 691.16 L514.60 689.72 L512.10 688.29 L509.60 686.86 L507.10 685.45 L504.60 684.05 L502.10 682.65 L499.60 681.27 L497.10 679.89 L494.60 678.52 L492.10 677.17 L489.60 675.83 L487.10 674.50 L484.60 673.19 L482.10 671.90 L479.60 670.63 L477.10 669.38 L474.60 668.16 L472.10 666.97 L469.60 665.81 L467.10 664.67 L464.60 663.58 L462.10 662.51 L459.60 661.49 L457.10 660.50 L454.60 659.56 L452.10 658.67 L449.60 657.81 L447.10 657.01 L444.60 656.26 L442.10 655.56 L439.60 654.92 L437.10 654.33 L434.60 653.81 L432.10 653.34 L429.60 652.94 L427.10 652.59 L424.60 652.31 L422.10 652.08 L419.60 651.91 L417.10 651.80 L414.60 651.74 L412.10 651.74 L409.60 651.79 L407.10 651.89 L404.60 652.04 L402.10 652.24 L399.60 652.49 L397.10 652.78 L394.60 653.12 L392.10 653.51 L389.60 653.94 L387.10 654.41 L384.60 654.93 L382.10 655.48 L379.60 656.08 L377.10 656.71 L374.60 657.38 L372.10 658.09 L369.60 658.83 L367.10 659.61 L364.60 660.42 L362.10 661.26 L359.60 662.13 L357.10 663.03 L354.60 663.96 L352.10 664.92 L349.60 665.90 L347.10 666.91 L344.60 667.95 L342.10 669.01 L339.60 670.09 L337.10 671.20 L334.60 672.32 L332.10 673.47 L329.60 674.64 L327.10 675.82 L324.60 677.02 L322.10 678.24 L319.60 679.47 L317.10 680.72 L314.60 681.98 L312.10 683.25 L309.60 684.53 L307.10 685.83 L304.60 687.13 L302.10 688.44 L299.60 689.76 L297.10 691.09 L294.60 692.42 L292.10 693.75 L289.60 695.09 L287.10 696.43 L284.60 697.78 L282.10 699.12 L279.60 700.46 L277.10 701.80 L274.60 703.14 L272.10 704.48 L269.60 705.81 L267.10 707.13 L264.60 708.45 L262.10 709.77 L259.60 711.08 L257.10 712.39 L254.60 713.69 L252.10 714.99 L249.60 716.28 L247.10 717.57 L244.60 718.85 L242.10 720.14 L239.60 721.42 L237.10 722.69 L234.60 723.96 L232.10 725.23 L229.60 726.50 L227.10 727.76 L224.60 729.02 L222.10 730.28 L219.60 731.54 L217.10 732.79 L214.60 734.04 L212.10 735.29 L209.60 736.52 L207.10 737.76 L204.60 738.98 L202.10 740.20 L199.60 741.40 L197.10 742.59 L194.60 743.77 L192.10 744.94 L189.60 746.09 L187.10 747.22 L184.60 748.33 L182.10 749.43 L179.60 750.51 L177.10 751.56 L174.60 752.59 L172.10 753.60 L169.60 754.58 L167.10 755.54 L164.60 756.47 L162.10 757.38 L159.60 758.27 L157.10 759.13 L154.60 759.97 L152.10 760.79 L149.60 761.58 L147.10 762.36 L144.60 763.12 L142.10 763.86 L139.60 764.59 L137.10 765.29 L134.60 765.98 L132.10 766.66 L129.60 767.32 L127.10 767.97 L124.60 768.60 L122.10 769.22 L119.60 769.83 L117.10 770.43 L114.60 771.02 L112.10 771.60 L109.60 772.16 L107.10 772.71 L104.60 773.25 L102.10 773.78 L99.60 774.29 L97.10 774.79 L94.60 775.28 L92.10 775.75 L89.60 776.20 L87.10 776.64 L84.60 777.06 L82.10 777.47 L79.60 777.86 L77.10 778.24 L74.60 778.59 L72.10 778.93 L69.60 779.25 L67.10 779.55 L64.60 779.83 L62.10 780.10 L59.60 780.34 L57.10 780.57 L54.60 780.77 L52.10 780.95 L49.60 781.11Z" fill="#e2176b" clip-path="url(#ab)"/>
<path d="M49.60 781.11 L49.30 752.40 C49.77 750.42 50.95 739.27 52.10 740.50 C53.25 741.73 54.90 760.93 56.20 759.80 C57.50 758.67 58.87 737.73 59.90 733.70 C60.93 729.67 61.57 731.03 62.40 735.60 C63.23 740.17 64.17 757.03 64.90 761.10 C65.63 765.17 66.18 759.38 66.80 760.00 C67.42 760.62 67.98 765.13 68.60 764.80 C69.22 764.47 69.83 756.75 70.50 758.00 C71.17 759.25 71.67 772.93 72.60 772.30 C73.53 771.67 74.68 755.45 76.10 754.20 C77.52 752.95 79.85 761.05 81.10 764.80 C82.35 768.55 82.87 773.68 83.60 776.70 C84.33 779.72 84.77 783.22 85.50 782.90 C86.23 782.58 87.48 777.18 88.00 774.80 C88.52 772.42 88.00 769.63 88.60 768.60 C89.22 767.57 90.88 770.68 91.70 768.60 C92.52 766.52 92.88 755.07 93.50 756.10 C94.12 757.13 94.57 770.75 95.40 774.80 C96.23 778.85 97.35 779.53 98.50 780.40 C99.65 781.27 101.37 781.97 102.30 780.00 C103.23 778.03 103.58 769.77 104.10 768.60 C104.62 767.43 104.88 771.45 105.40 773.00 C105.92 774.55 106.58 778.43 107.20 777.90 C107.82 777.37 107.85 774.98 109.10 769.80 C110.35 764.62 113.25 747.42 114.70 746.80 C116.15 746.18 116.87 762.78 117.80 766.10 C118.73 769.42 119.37 766.72 120.30 766.70 C121.23 766.68 122.03 769.85 123.40 766.00 C124.77 762.15 127.08 744.33 128.50 743.60 C129.92 742.87 130.42 761.55 131.90 761.60 C133.38 761.65 135.83 744.02 137.40 743.90 C138.97 743.78 140.02 760.60 141.30 760.90 C142.58 761.20 144.02 745.58 145.10 745.70 C146.18 745.82 147.12 758.48 147.80 761.60 C148.48 764.72 148.17 762.78 149.20 764.40 C150.23 766.02 152.27 771.77 154.00 771.30 C155.73 770.83 157.98 764.48 159.60 761.60 C161.22 758.72 162.32 760.00 163.70 754.00 C165.08 748.00 166.52 728.48 167.90 725.60 C169.28 722.72 170.50 735.08 172.00 736.70 C173.50 738.32 175.85 735.08 176.90 735.30 C177.95 735.52 177.73 738.92 178.30 738.00 C178.87 737.08 179.50 730.02 180.30 729.80 C181.10 729.58 181.90 737.73 183.10 736.70 C184.30 735.67 186.35 722.45 187.50 723.60 C188.65 724.75 189.35 739.57 190.00 743.60 C190.65 747.63 190.82 744.00 191.40 747.80 C191.98 751.60 192.58 763.87 193.50 766.40 C194.42 768.93 195.87 763.45 196.90 763.00 C197.93 762.55 199.00 766.93 199.70 763.70 C200.40 760.47 200.42 751.78 201.10 743.60 C201.78 735.42 203.12 719.67 203.80 714.60 C204.48 709.53 204.62 713.43 205.20 713.20 C205.78 712.97 206.37 714.82 207.30 713.20 C208.23 711.58 209.53 702.82 210.80 703.50 C212.07 704.18 213.53 718.45 214.90 717.30 C216.27 716.15 217.92 694.73 219.00 696.60 C220.08 698.47 220.55 725.13 221.40 728.50 C222.25 731.87 223.07 718.98 224.10 716.80 C225.13 714.62 226.32 714.60 227.60 715.40 C228.88 716.20 230.88 719.77 231.80 721.60 C232.72 723.43 232.65 725.02 233.10 726.40 C233.55 727.78 233.92 730.23 234.50 729.90 C235.08 729.57 235.57 722.78 236.60 724.40 C237.63 726.02 239.43 740.07 240.70 739.60 C241.97 739.13 242.82 727.13 244.20 721.60 C245.58 716.07 247.85 707.43 249.00 706.40 C250.15 705.37 250.17 711.60 251.10 715.40 C252.03 719.20 252.98 728.85 254.60 729.20 C256.22 729.55 258.97 717.50 260.80 717.50 C262.63 717.50 264.33 730.70 265.60 729.20 C266.87 727.70 267.58 713.45 268.40 708.50 C269.22 703.55 269.80 700.32 270.50 699.50 C271.20 698.68 271.68 704.42 272.60 703.60 C273.52 702.78 275.08 694.83 276.00 694.60 C276.92 694.37 276.95 696.32 278.10 702.20 C279.25 708.08 281.05 730.58 282.90 729.90 C284.75 729.22 287.47 706.40 289.20 698.10 C290.93 689.80 292.27 681.48 293.30 680.10 C294.33 678.72 294.48 687.72 295.40 689.80 C296.32 691.88 297.65 688.68 298.80 692.60 C299.95 696.52 301.37 711.00 302.30 713.30 C303.23 715.60 303.37 706.87 304.40 706.40 C305.43 705.93 307.23 712.57 308.50 710.50 C309.77 708.43 310.92 697.15 312.00 694.00 C313.08 690.85 314.15 691.77 315.00 691.60 C315.85 691.43 316.18 693.47 317.10 693.00 C318.02 692.53 319.58 687.42 320.50 688.80 C321.42 690.18 321.90 702.68 322.60 701.30 C323.30 699.92 324.12 688.80 324.70 680.50 C325.28 672.20 325.23 657.72 326.10 651.50 C326.97 645.28 328.75 642.52 329.90 643.20 C331.05 643.88 331.92 655.10 333.00 655.60 C334.08 656.10 335.37 645.97 336.40 646.20 C337.43 646.43 338.62 653.37 339.20 657.00 C339.78 660.63 339.55 663.85 339.90 668.00 C340.25 672.15 340.83 679.82 341.30 681.90 C341.77 683.98 342.02 680.03 342.70 680.50 C343.38 680.97 344.37 686.53 345.40 684.70 C346.43 682.87 347.78 673.18 348.90 669.50 C350.02 665.82 351.18 665.72 352.10 662.60 C353.02 659.48 353.67 651.50 354.40 650.80 C355.13 650.10 355.80 656.67 356.50 658.40 C357.20 660.13 357.92 660.05 358.60 661.20 C359.28 662.35 359.33 660.82 360.60 665.30 C361.87 669.78 364.35 689.02 366.20 688.10 C368.05 687.18 370.43 666.82 371.70 659.80 C372.97 652.78 373.10 646.70 373.80 646.00 C374.50 645.30 375.22 653.42 375.90 655.60 C376.58 657.78 376.52 652.75 377.90 659.10 C379.28 665.45 382.23 691.05 384.20 693.70 C386.17 696.35 388.10 679.27 389.70 675.00 C391.30 670.73 392.93 671.78 393.80 668.10 C394.67 664.42 394.43 657.28 394.90 652.90 C395.37 648.52 395.85 646.77 396.60 641.80 C397.35 636.83 398.37 622.18 399.40 623.10 C400.43 624.02 402.12 642.57 402.80 647.30 C403.48 652.03 403.03 648.62 403.50 651.50 C403.97 654.38 404.90 664.60 405.60 664.60 C406.30 664.60 406.90 656.10 407.70 651.50 C408.50 646.90 409.48 637.47 410.40 637.00 C411.32 636.53 412.35 646.98 413.20 648.70 C414.05 650.42 414.88 646.60 415.50 647.30 C416.12 648.00 416.25 648.05 416.90 652.90 C417.55 657.75 418.25 676.40 419.40 676.40 C420.55 676.40 422.60 656.13 423.80 652.90 C425.00 649.67 425.55 654.93 426.60 657.00 C427.65 659.07 429.07 665.30 430.10 665.30 C431.13 665.30 432.18 657.68 432.80 657.00 C433.42 656.32 433.33 661.65 433.80 661.20 C434.27 660.75 434.73 654.42 435.60 654.30 C436.47 654.18 438.32 660.28 439.00 660.50 C439.68 660.72 439.12 653.87 439.70 655.60 C440.28 657.33 441.45 666.75 442.50 670.90 C443.55 675.05 444.85 677.63 446.00 680.50 C447.15 683.37 448.48 687.40 449.40 688.10 C450.32 688.80 450.68 685.15 451.50 684.70 C452.32 684.25 453.03 683.90 454.30 685.40 C455.57 686.90 457.72 692.90 459.10 693.70 C460.48 694.50 461.45 690.90 462.60 690.20 C463.75 689.50 464.85 693.18 466.00 689.50 C467.15 685.82 468.47 672.47 469.50 668.10 C470.53 663.73 471.40 663.07 472.20 663.30 C473.00 663.53 473.13 666.85 474.30 669.50 C475.47 672.15 477.93 678.52 479.20 679.20 C480.47 679.88 480.87 675.22 481.90 673.60 C482.93 671.98 483.78 672.60 485.40 669.50 C487.02 666.40 489.77 653.85 491.60 655.00 C493.43 656.15 494.90 672.60 496.40 676.40 C497.90 680.20 499.32 679.42 500.60 677.80 C501.88 676.18 502.83 670.50 504.10 666.70 C505.37 662.90 506.67 655.53 508.20 655.00 C509.73 654.47 512.10 658.40 513.30 663.50 C514.50 668.60 514.72 680.52 515.40 685.60 C516.08 690.68 516.60 690.30 517.40 694.00 C518.20 697.70 519.03 707.12 520.20 707.80 C521.37 708.48 523.48 701.57 524.40 698.10 C525.32 694.63 524.90 690.47 525.70 687.00 C526.50 683.53 528.03 678.33 529.20 677.30 C530.37 676.27 531.55 679.87 532.70 680.80 C533.85 681.73 535.07 680.02 536.10 682.90 C537.13 685.78 538.32 694.42 538.90 698.10 C539.48 701.78 539.25 702.47 539.60 705.00 C539.95 707.53 540.43 713.30 541.00 713.30 C541.57 713.30 542.20 709.95 543.00 705.00 C543.80 700.05 544.75 684.87 545.80 683.60 C546.85 682.33 548.03 695.22 549.30 697.40 C550.57 699.58 552.25 695.20 553.40 696.70 C554.55 698.20 555.17 708.02 556.20 706.40 C557.23 704.78 558.27 692.18 559.60 687.00 C560.93 681.82 562.58 670.00 564.20 675.30 C565.82 680.60 568.22 709.70 569.30 718.80 C570.38 727.90 570.12 729.43 570.70 729.90 C571.28 730.37 572.00 724.72 572.80 721.60 C573.60 718.48 574.30 710.90 575.50 711.20 C576.70 711.50 578.97 721.47 580.00 723.40 C581.03 725.33 580.63 726.30 581.70 722.80 C582.77 719.30 585.05 705.02 586.40 702.40 C587.75 699.78 588.93 704.88 589.80 707.10 C590.67 709.32 591.02 711.27 591.60 715.70 C592.18 720.13 592.80 729.57 593.30 733.70 C593.80 737.83 594.08 737.15 594.60 740.50 C595.12 743.85 595.83 753.38 596.40 753.80 C596.97 754.22 597.32 745.78 598.00 743.00 C598.68 740.22 599.72 737.65 600.50 737.10 C601.28 736.55 601.98 739.05 602.70 739.70 C603.42 740.35 604.17 742.22 604.80 741.00 C605.43 739.78 605.78 733.55 606.50 732.40 C607.22 731.25 608.30 734.10 609.10 734.10 C609.90 734.10 610.45 730.62 611.30 732.40 C612.15 734.18 613.28 742.17 614.20 744.80 C615.12 747.43 616.08 747.45 616.80 748.20 C617.52 748.95 617.78 748.73 618.50 749.30 C619.22 749.87 619.73 756.77 621.10 751.60 C622.47 746.43 625.13 721.87 626.70 718.30 C628.27 714.73 629.43 728.07 630.50 730.20 C631.57 732.33 632.18 732.63 633.10 731.10 C634.02 729.57 635.23 720.43 636.00 721.00 C636.77 721.57 637.08 727.88 637.70 734.50 C638.32 741.12 638.97 754.88 639.70 760.70 C640.43 766.52 641.13 766.02 642.10 769.40 C643.07 772.78 644.53 780.20 645.50 781.00 C646.47 781.80 646.93 774.77 647.90 774.20 C648.87 773.63 650.42 777.68 651.30 777.60 C652.18 777.52 652.52 772.90 653.20 773.70 C653.88 774.50 654.83 782.88 655.40 782.40 C655.97 781.92 655.83 775.80 656.60 770.80 C657.37 765.80 658.78 752.23 660.00 752.40 C661.22 752.57 662.77 770.10 663.90 771.80 C665.03 773.50 665.55 769.70 666.80 762.60 C668.05 755.50 669.95 730.17 671.40 729.20 C672.85 728.23 674.50 751.40 675.50 756.80 C676.50 762.20 676.67 759.83 677.40 761.60 C678.13 763.37 679.08 767.72 679.90 767.40 C680.72 767.08 681.42 757.93 682.30 759.70 C683.18 761.47 684.32 775.58 685.20 778.00 C686.08 780.42 687.08 773.70 687.60 774.20 C688.12 774.70 687.77 773.53 688.30 781.00 C688.83 788.47 690.00 815.17 690.80 819.00 C691.60 822.83 692.50 806.75 693.10 804.00 C693.70 801.25 694.18 802.75 694.40 802.50 L694.40 780.69 L693.80 780.69 L692.10 780.74 L689.60 780.74 L687.10 780.64 L684.60 780.45 L682.10 780.17 L679.60 779.80 L677.10 779.35 L674.60 778.82 L672.10 778.21 L669.60 777.53 L667.10 776.78 L664.60 775.96 L662.10 775.08 L659.60 774.13 L657.10 773.13 L654.60 772.08 L652.10 770.97 L649.60 769.82 L647.10 768.62 L644.60 767.38 L642.10 766.10 L639.60 764.78 L637.10 763.44 L634.60 762.06 L632.10 760.66 L629.60 759.24 L627.10 757.80 L624.60 756.34 L622.10 754.87 L619.60 753.39 L617.10 751.90 L614.60 750.40 L612.10 748.90 L609.60 747.40 L607.10 745.89 L604.60 744.37 L602.10 742.85 L599.60 741.32 L597.10 739.79 L594.60 738.26 L592.10 736.73 L589.60 735.19 L587.10 733.65 L584.60 732.10 L582.10 730.56 L579.60 729.02 L577.10 727.47 L574.60 725.92 L572.10 724.38 L569.60 722.83 L567.10 721.29 L564.60 719.75 L562.10 718.20 L559.60 716.66 L557.10 715.13 L554.60 713.59 L552.10 712.06 L549.60 710.53 L547.10 709.01 L544.60 707.49 L542.10 705.97 L539.60 704.46 L537.10 702.96 L534.60 701.46 L532.10 699.96 L529.60 698.48 L527.10 697.00 L524.60 695.53 L522.10 694.06 L519.60 692.61 L517.10 691.16 L514.60 689.72 L512.10 688.29 L509.60 686.86 L507.10 685.45 L504.60 684.05 L502.10 682.65 L499.60 681.27 L497.10 679.89 L494.60 678.52 L492.10 677.17 L489.60 675.83 L487.10 674.50 L484.60 673.19 L482.10 671.90 L479.60 670.63 L477.10 669.38 L474.60 668.16 L472.10 666.97 L469.60 665.81 L467.10 664.67 L464.60 663.58 L462.10 662.51 L459.60 661.49 L457.10 660.50 L454.60 659.56 L452.10 658.67 L449.60 657.81 L447.10 657.01 L444.60 656.26 L442.10 655.56 L439.60 654.92 L437.10 654.33 L434.60 653.81 L432.10 653.34 L429.60 652.94 L427.10 652.59 L424.60 652.31 L422.10 652.08 L419.60 651.91 L417.10 651.80 L414.60 651.74 L412.10 651.74 L409.60 651.79 L407.10 651.89 L404.60 652.04 L402.10 652.24 L399.60 652.49 L397.10 652.78 L394.60 653.12 L392.10 653.51 L389.60 653.94 L387.10 654.41 L384.60 654.93 L382.10 655.48 L379.60 656.08 L377.10 656.71 L374.60 657.38 L372.10 658.09 L369.60 658.83 L367.10 659.61 L364.60 660.42 L362.10 661.26 L359.60 662.13 L357.10 663.03 L354.60 663.96 L352.10 664.92 L349.60 665.90 L347.10 666.91 L344.60 667.95 L342.10 669.01 L339.60 670.09 L337.10 671.20 L334.60 672.32 L332.10 673.47 L329.60 674.64 L327.10 675.82 L324.60 677.02 L322.10 678.24 L319.60 679.47 L317.10 680.72 L314.60 681.98 L312.10 683.25 L309.60 684.53 L307.10 685.83 L304.60 687.13 L302.10 688.44 L299.60 689.76 L297.10 691.09 L294.60 692.42 L292.10 693.75 L289.60 695.09 L287.10 696.43 L284.60 697.78 L282.10 699.12 L279.60 700.46 L277.10 701.80 L274.60 703.14 L272.10 704.48 L269.60 705.81 L267.10 707.13 L264.60 708.45 L262.10 709.77 L259.60 711.08 L257.10 712.39 L254.60 713.69 L252.10 714.99 L249.60 716.28 L247.10 717.57 L244.60 718.85 L242.10 720.14 L239.60 721.42 L237.10 722.69 L234.60 723.96 L232.10 725.23 L229.60 726.50 L227.10 727.76 L224.60 729.02 L222.10 730.28 L219.60 731.54 L217.10 732.79 L214.60 734.04 L212.10 735.29 L209.60 736.52 L207.10 737.76 L204.60 738.98 L202.10 740.20 L199.60 741.40 L197.10 742.59 L194.60 743.77 L192.10 744.94 L189.60 746.09 L187.10 747.22 L184.60 748.33 L182.10 749.43 L179.60 750.51 L177.10 751.56 L174.60 752.59 L172.10 753.60 L169.60 754.58 L167.10 755.54 L164.60 756.47 L162.10 757.38 L159.60 758.27 L157.10 759.13 L154.60 759.97 L152.10 760.79 L149.60 761.58 L147.10 762.36 L144.60 763.12 L142.10 763.86 L139.60 764.59 L137.10 765.29 L134.60 765.98 L132.10 766.66 L129.60 767.32 L127.10 767.97 L124.60 768.60 L122.10 769.22 L119.60 769.83 L117.10 770.43 L114.60 771.02 L112.10 771.60 L109.60 772.16 L107.10 772.71 L104.60 773.25 L102.10 773.78 L99.60 774.29 L97.10 774.79 L94.60 775.28 L92.10 775.75 L89.60 776.20 L87.10 776.64 L84.60 777.06 L82.10 777.47 L79.60 777.86 L77.10 778.24 L74.60 778.59 L72.10 778.93 L69.60 779.25 L67.10 779.55 L64.60 779.83 L62.10 780.10 L59.60 780.34 L57.10 780.57 L54.60 780.77 L52.10 780.95 L49.60 781.11Z" fill="#00afe1" clip-path="url(#be)"/>
<path d="M49.60 781.11 L52.10 780.95 L54.60 780.77 L57.10 780.57 L59.60 780.34 L62.10 780.10 L64.60 779.83 L67.10 779.55 L69.60 779.25 L72.10 778.93 L74.60 778.59 L77.10 778.24 L79.60 777.86 L82.10 777.47 L84.60 777.06 L87.10 776.64 L89.60 776.20 L92.10 775.75 L94.60 775.28 L97.10 774.79 L99.60 774.29 L102.10 773.78 L104.60 773.25 L107.10 772.71 L109.60 772.16 L112.10 771.60 L114.60 771.02 L117.10 770.43 L119.60 769.83 L122.10 769.22 L124.60 768.60 L127.10 767.97 L129.60 767.32 L132.10 766.66 L134.60 765.98 L137.10 765.29 L139.60 764.59 L142.10 763.86 L144.60 763.12 L147.10 762.36 L149.60 761.58 L152.10 760.79 L154.60 759.97 L157.10 759.13 L159.60 758.27 L162.10 757.38 L164.60 756.47 L167.10 755.54 L169.60 754.58 L172.10 753.60 L174.60 752.59 L177.10 751.56 L179.60 750.51 L182.10 749.43 L184.60 748.33 L187.10 747.22 L189.60 746.09 L192.10 744.94 L194.60 743.77 L197.10 742.59 L199.60 741.40 L202.10 740.20 L204.60 738.98 L207.10 737.76 L209.60 736.52 L212.10 735.29 L214.60 734.04 L217.10 732.79 L219.60 731.54 L222.10 730.28 L224.60 729.02 L227.10 727.76 L229.60 726.50 L232.10 725.23 L234.60 723.96 L237.10 722.69 L239.60 721.42 L242.10 720.14 L244.60 718.85 L247.10 717.57 L249.60 716.28 L252.10 714.99 L254.60 713.69 L257.10 712.39 L259.60 711.08 L262.10 709.77 L264.60 708.45 L267.10 707.13 L269.60 705.81 L272.10 704.48 L274.60 703.14 L277.10 701.80 L279.60 700.46 L282.10 699.12 L284.60 697.78 L287.10 696.43 L289.60 695.09 L292.10 693.75 L294.60 692.42 L297.10 691.09 L299.60 689.76 L302.10 688.44 L304.60 687.13 L307.10 685.83 L309.60 684.53 L312.10 683.25 L314.60 681.98 L317.10 680.72 L319.60 679.47 L322.10 678.24 L324.60 677.02 L327.10 675.82 L329.60 674.64 L332.10 673.47 L334.60 672.32 L337.10 671.20 L339.60 670.09 L342.10 669.01 L344.60 667.95 L347.10 666.91 L349.60 665.90 L352.10 664.92 L354.60 663.96 L357.10 663.03 L359.60 662.13 L362.10 661.26 L364.60 660.42 L367.10 659.61 L369.60 658.83 L372.10 658.09 L374.60 657.38 L377.10 656.71 L379.60 656.08 L382.10 655.48 L384.60 654.93 L387.10 654.41 L389.60 653.94 L392.10 653.51 L394.60 653.12 L397.10 652.78 L399.60 652.49 L402.10 652.24 L404.60 652.04 L407.10 651.89 L409.60 651.79 L412.10 651.74 L414.60 651.74 L417.10 651.80 L419.60 651.91 L422.10 652.08 L424.60 652.31 L427.10 652.59 L429.60 652.94 L432.10 653.34 L434.60 653.81 L437.10 654.33 L439.60 654.92 L442.10 655.56 L444.60 656.26 L447.10 657.01 L449.60 657.81 L452.10 658.67 L454.60 659.56 L457.10 660.50 L459.60 661.49 L462.10 662.51 L464.60 663.58 L467.10 664.67 L469.60 665.81 L472.10 666.97 L474.60 668.16 L477.10 669.38 L479.60 670.63 L482.10 671.90 L484.60 673.19 L487.10 674.50 L489.60 675.83 L492.10 677.17 L494.60 678.52 L497.10 679.89 L499.60 681.27 L502.10 682.65 L504.60 684.05 L507.10 685.45 L509.60 686.86 L512.10 688.29 L514.60 689.72 L517.10 691.16 L519.60 692.61 L522.10 694.06 L524.60 695.53 L527.10 697.00 L529.60 698.48 L532.10 699.96 L534.60 701.46 L537.10 702.96 L539.60 704.46 L542.10 705.97 L544.60 707.49 L547.10 709.01 L549.60 710.53 L552.10 712.06 L554.60 713.59 L557.10 715.13 L559.60 716.66 L562.10 718.20 L564.60 719.75 L567.10 721.29 L569.60 722.83 L572.10 724.38 L574.60 725.92 L577.10 727.47 L579.60 729.02 L582.10 730.56 L584.60 732.10 L587.10 733.65 L589.60 735.19 L592.10 736.73 L594.60 738.26 L597.10 739.79 L599.60 741.32 L602.10 742.85 L604.60 744.37 L607.10 745.89 L609.60 747.40 L612.10 748.90 L614.60 750.40 L617.10 751.90 L619.60 753.39 L622.10 754.87 L624.60 756.34 L627.10 757.80 L629.60 759.24 L632.10 760.66 L634.60 762.06 L637.10 763.44 L639.60 764.78 L642.10 766.10 L644.60 767.38 L647.10 768.62 L649.60 769.82 L652.10 770.97 L654.60 772.08 L657.10 773.13 L659.60 774.13 L662.10 775.08 L664.60 775.96 L667.10 776.78 L669.60 777.53 L672.10 778.21 L674.60 778.82 L677.10 779.35 L679.60 779.80 L682.10 780.17 L684.60 780.45 L687.10 780.64 L689.60 780.74 L692.10 780.74 L693.80 780.69" fill="none" stroke="#584a52" stroke-width="4.3"/>
<rect x="46.5" y="898.5" width="50.6" height="4.3" fill="#584a52"/>
<text x="110.4" y="904.1" font-size="12" fill="#111" textLength="125.9" lengthAdjust="spacingAndGlyphs">Température de référence</text>
<text x="41.2" y="925.5" font-size="12" fill="#111" textLength="469.2" lengthAdjust="spacingAndGlyphs">* Température calculée à partir de 32 stations météorologiques réparties sur le territoire français.</text>
</svg></body></html>
